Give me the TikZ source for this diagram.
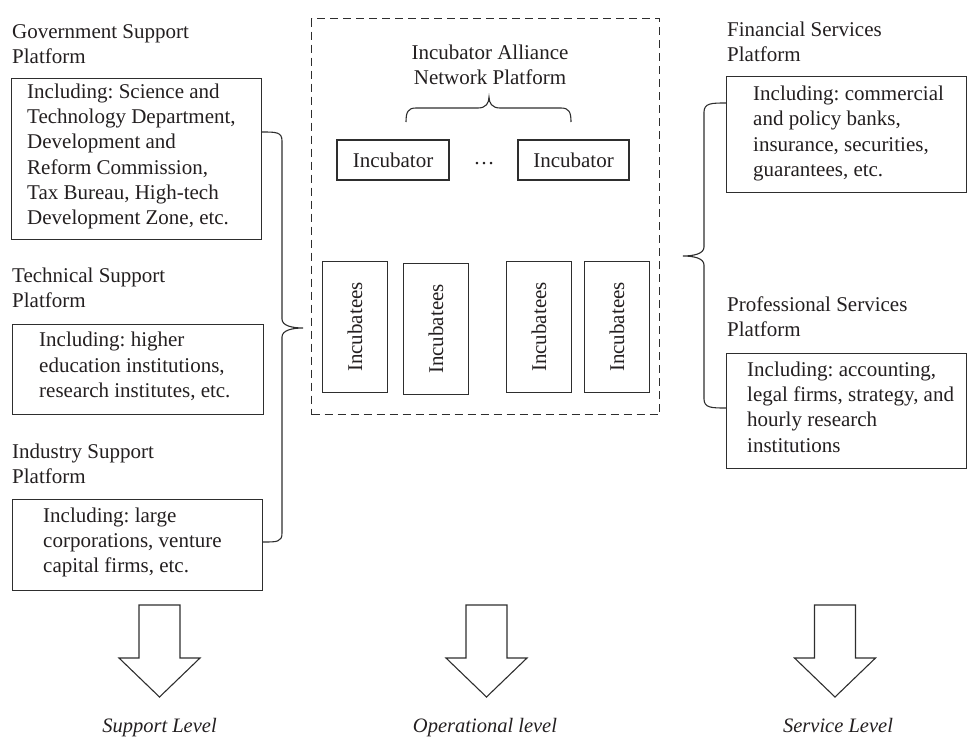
\documentclass[tikz,border=0pt]{standalone}
\usepackage{fontspec}
\setmainfont{Liberation Serif}
\usetikzlibrary{calc}
\definecolor{ink}{HTML}{231F20}
\definecolor{edge}{HTML}{2E2E2E}
\frenchspacing
\begin{document}
\begin{tikzpicture}[x=1pt,y=-1pt,
  box/.style={draw=edge, line width=1.1pt, inner sep=0pt, anchor=north west},
  dbox/.style={draw=edge, line width=1.1pt, dash pattern=on 8pt off 5pt, inner sep=0pt, anchor=north west},
  txt/.style={text=ink, font=\fontsize{21}{25.3}\selectfont, align=left, inner sep=0pt},
  ctxt/.style={text=ink, font=\fontsize{21}{25.3}\selectfont, align=center, inner sep=0pt},
  lvl/.style={text=ink, font=\fontsize{20.5}{24}\selectfont\itshape, inner sep=0pt, anchor=base},
  brace/.style={draw=edge, line width=1.1pt},
  bigarrow/.pic={\draw[draw=edge, line width=1.1pt, line join=miter]
     (-20.5,0) -- (20.5,0) -- (20.5,53) -- (40.5,53) -- (0,92) -- (-40.5,53) -- (-20.5,53) -- cycle;}
]
\useasboundingbox (0,0) rectangle (968,739);

% ---------- left column ----------
\node[txt, anchor=west] (govtitle) at (12,44) {Government Support\\Platform};
\node[box, minimum width=250pt, minimum height=161pt] (gov) at (11,78) {};
\node[txt, anchor=west] (govtext) at (27,156.4) {Including: Science and\\Technology Department,\\Development and\\Reform Commission,\\Tax Bureau, High-tech\\Development Zone, etc.};

\node[txt, anchor=west] (techtitle) at (12,288) {Technical Support\\Platform};
\node[box, minimum width=251pt, minimum height=90pt] (tech) at (12,324) {};
\node[txt, anchor=west] (techtext) at (39,366.5) {Including: higher\\education institutions,\\research institutes, etc.};

\node[txt, anchor=west] (indtitle) at (12,464) {Industry Support\\Platform};
\node[box, minimum width=250pt, minimum height=91pt] (ind) at (12,499) {};
\node[txt, anchor=west] (indtext) at (43,542.5) {Including: large\\corporations, venture\\capital firms, etc.};

% left brace
\coordinate (lbT) at ($(gov.north east)+(0,54)$);
\coordinate (lbB) at ($(ind.north east)+(0,43)$);
\coordinate (lbC) at (303,328);
\draw[brace] (lbT) .. controls +(14,0) and +(0,-9) .. (282,141) -- (282,319)
  .. controls +(0,7) and +(-10,0) .. (lbC)
  .. controls +(-10,0) and +(0,-7) .. (282,337) -- (282,533)
  .. controls +(0,9) and +(14,0) .. (lbB);

% ---------- middle ----------
\node[dbox, minimum width=348pt, minimum height=396pt] (net) at (311,18) {};
\node[ctxt] (nettitle) at (490,65) {Incubator Alliance\\Network Platform};

\coordinate (tbL) at (406,122);
\coordinate (tbR) at (571,122);
\coordinate (tbC) at (489,97);
\draw[brace] (tbL) .. controls +(0,-10) and +(-8,0) .. (416,108) -- (478,108)
  .. controls +(8,0) and +(0,6) .. (tbC)
  .. controls +(0,6) and +(-8,0) .. (500,108) -- (561,108)
  .. controls +(8,0) and +(0,-10) .. (tbR);

\node[box, anchor=center, minimum width=112pt, minimum height=40pt, text=ink, font=\fontsize{21}{25.3}\selectfont] (inc1) at (393,160) {Incubator};
\node[box, anchor=center, minimum width=111pt, minimum height=40pt, text=ink, font=\fontsize{21}{25.3}\selectfont] (inc2) at (573.5,160) {Incubator};
\node[ctxt] (dots) at (484,164) {\dots};

\foreach \n/\x/\y in {e1/322/261, e2/403/263, e3/506/261, e4/584/261}{
  \node[box, minimum width=65pt, minimum height=131pt] (\n) at (\x,\y) {};
  \node[ctxt, rotate=90] at (\n.center) {Incubatees};
}

% ---------- right column ----------
\node[txt, anchor=west] (fintitle) at (727,42) {Financial Services\\Platform};
\node[box, minimum width=240pt, minimum height=116pt] (fin) at (726,76) {};
\node[txt, anchor=west] (fintext) at (753,133.5) {Including: commercial\\and policy banks,\\insurance, securities,\\guarantees, etc.};

\node[txt, anchor=west] (proftitle) at (727,317) {Professional Services\\Platform};
\node[box, minimum width=240pt, minimum height=115pt] (prof) at (726,353) {};
\node[txt, anchor=west] (proftext) at (747,407) {Including: accounting,\\legal firms, strategy, and\\hourly research\\institutions};

% right brace
\coordinate (rbT) at ($(fin.north west)+(0,27)$);
\coordinate (rbB) at ($(prof.north west)+(0,55)$);
\coordinate (rbC) at (683,256);
\draw[brace] (rbT) .. controls +(-14,0) and +(0,-9) .. (704,112) -- (704,247)
  .. controls +(0,7) and +(10,0) .. (rbC)
  .. controls +(10,0) and +(0,-7) .. (704,265) -- (704,399)
  .. controls +(0,9) and +(-14,0) .. (rbB);

% ---------- bottom arrows ----------
\pic at (159.5,605) {bigarrow};
\pic at (486.5,605) {bigarrow};
\pic at (835,605) {bigarrow};
\node[lvl] (l1) at (159.5,732) {Support Level};
\node[lvl] (l2) at (485,732) {Operational level};
\node[lvl] (l3) at (838,732) {Service Level};
\end{tikzpicture}
\end{document}
